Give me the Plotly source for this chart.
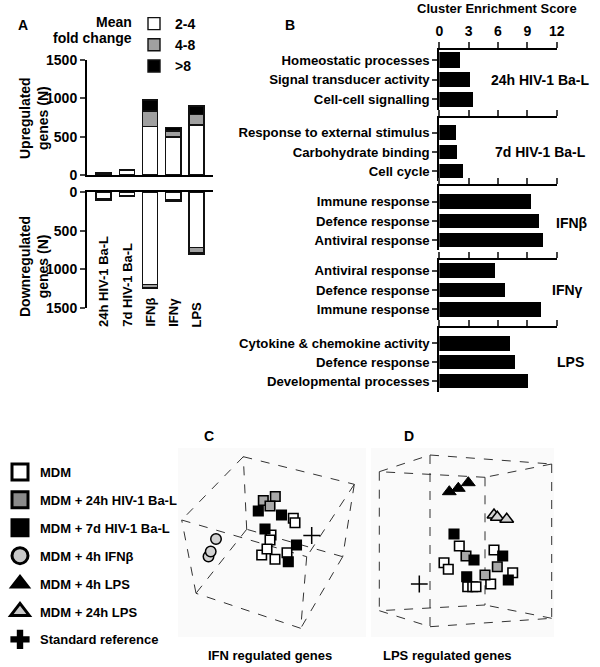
import plotly.graph_objects as go

W, H = 600, 667
def px(x): return x / W
def py(y): return 1 - y / H

FONT = "Liberation Sans, Arial, sans-serif"

# ---------------- Panel A data ----------------
a_categories = ["24h HIV-1 Ba-L", "7d HIV-1 Ba-L", "IFNβ", "IFNγ", "LPS"]
fold_bins = ["2-4", "4-8", ">8"]
fold_colors = ["white", "#a0a0a0", "black"]
up_2_4 = [22, 62, 630, 495, 652]
up_4_8 = [8, 4, 205, 79, 140]
up_gt8 = [0, 0, 143, 43, 108]
down_2_4 = [90, 48, 1195, 100, 720]
down_4_8 = [8, 4, 45, 6, 62]
down_gt8 = [5, 0, 10, 10, 18]
a_ticks = [0, 500, 1000, 1500]

# ---------------- Panel B data ----------------
b_groups = ["24h HIV-1 Ba-L", "7d HIV-1 Ba-L", "IFNβ", "IFNγ", "LPS"]
b_terms = [
    ["Homeostatic processes", "Signal transducer activity", "Cell-cell signalling"],
    ["Response to external stimulus", "Carbohydrate binding", "Cell cycle"],
    ["Immune response", "Defence response", "Antiviral response"],
    ["Antiviral response", "Defence response", "Immune response"],
    ["Cytokine & chemokine activity", "Defence response", "Developmental processes"],
]
b_scores = [
    [2.1, 3.1, 3.45],
    [1.7, 1.78, 2.45],
    [9.37, 10.2, 10.6],
    [5.7, 6.7, 10.4],
    [7.2, 7.7, 9.1],
]
b_ticks = [0, 3, 6, 9, 12]

# ---------------- Panel C data (projected PCA coordinates) ----------------
c_box_x = [243.3, 354.3, 181.7, 196.0, 300.7, 342.7, 306.7, 246.7]
c_box_y = [456.7, 484.3, 520.0, 593.3, 628.3, 556.7, 556.7, 529.3]
c_box_edges = [(0, 1), (1, 5), (5, 7), (7, 0), (2, 6), (6, 4), (4, 3), (3, 2),
               (0, 2), (1, 6), (5, 4), (7, 3)]
c_mdm_x = [293.3, 295.0, 271.0, 270.0, 261.7, 275.0, 287.0, 267.0]
c_mdm_y = [518.3, 522.7, 535.0, 540.0, 555.0, 559.3, 552.7, 549.0]
c_24h_x = [263.3, 275.3, 270.0]
c_24h_y = [500.5, 496.5, 506.0]
c_7d_x = [258.3, 281.5, 265.0, 296.5, 288.3]
c_7d_y = [511.0, 515.0, 529.0, 545.0, 561.7]
c_ifnb_x = [208.5, 210.7, 216.0]
c_ifnb_y = [556.5, 551.5, 539.0]
c_ref_x = [311.7]
c_ref_y = [535.5]

# ---------------- Panel D data ----------------
d_box_x = [379.3, 430.0, 551.7, 485.0, 379.3, 430.0, 551.7, 485.0]
d_box_y = [471.7, 455.0, 464.0, 477.3, 610.7, 626.7, 618.3, 605.0]
d_box_edges = [(0, 1), (1, 2), (2, 3), (3, 0), (4, 5), (5, 6), (6, 7), (7, 4),
               (0, 4), (1, 5), (2, 6), (3, 7)]
d_mdm_x = [459.3, 444.0, 448.3, 467.7, 472.7, 476.0, 490.7, 494.0, 512.7]
d_mdm_y = [546.0, 562.7, 569.3, 586.7, 586.7, 586.7, 584.0, 550.0, 572.7]
d_24h_x = [466.0, 485.0, 497.3]
d_24h_y = [556.0, 575.0, 566.7]
d_7d_x = [454.0, 474.0, 466.7, 502.7, 508.3]
d_7d_y = [534.0, 560.0, 576.7, 556.0, 580.0]
d_lps4_x = [449.3, 458.3, 468.3]
d_lps4_y = [491.7, 488.3, 482.7]
d_lps24_x = [494.0, 497.3, 506.7]
d_lps24_y = [515.0, 517.3, 519.3]
d_ref_x = [419.3]
d_ref_y = [584.0]

legend_names = ["MDM", "MDM + 24h HIV-1 Ba-L", "MDM + 7d HIV-1 Ba-L", "MDM + 4h IFNβ",
                "MDM + 4h LPS", "MDM + 24h LPS", "Standard reference"]

fig = go.Figure()

# ---------- Panel A bars ----------
up_vals = [up_2_4, up_4_8, up_gt8]
down_vals = [down_2_4, down_4_8, down_gt8]
for i, name in enumerate(fold_bins):
    fig.add_trace(go.Bar(x=a_categories, y=up_vals[i], name=name, marker=dict(color=fold_colors[i], line=dict(color="#111", width=1.4)),
                         width=0.65, xaxis="x", yaxis="y", legend="legend", legendgroup=name))
for i, name in enumerate(fold_bins):
    fig.add_trace(go.Bar(x=a_categories, y=down_vals[i], name=name, marker=dict(color=fold_colors[i], line=dict(color="#111", width=1.4)),
                         width=0.65, xaxis="x2", yaxis="y2", showlegend=False, legendgroup=name))

# ---------- Panel B bars ----------
b_layout = [  # top, first-centre, spacing, bottom (px)
    (50, 60, 19.7, 110),
    (118.3, 132.7, 19.2, 181),
    (186, 201.7, 19.2, 250),
    (260, 270.7, 19.3, 320),
    (328.3, 343.3, 18.9, 392),
]
for g in range(5):
    ax = g + 3
    fig.add_trace(go.Bar(x=b_scores[g], y=b_terms[g], orientation="h", width=0.77,
                         marker=dict(color="black", line=dict(width=0)),
                         xaxis=f"x{ax}", yaxis=f"y{ax}", showlegend=False))

# ---------- Panels C & D ----------
def box_lines(bx, by, edges):
    xs, ys = [], []
    for a, b in edges:
        xs += [bx[a], bx[b], None]
        ys += [by[a], by[b], None]
    return xs, ys

for bx, by, edges, ax in [(c_box_x, c_box_y, c_box_edges, 8), (d_box_x, d_box_y, d_box_edges, 9)]:
    lx, ly = box_lines(bx, by, edges)
    fig.add_trace(go.Scatter(x=lx, y=ly, mode="lines", line=dict(color="#333", width=1, dash="dash"),
                             xaxis=f"x{ax}", yaxis=f"y{ax}", showlegend=False, hoverinfo="skip"))

sq = dict(symbol="square", size=9.5, line=dict(color="black", width=1.6))
def add_pts(x, y, ax, marker):
    fig.add_trace(go.Scatter(x=x, y=y, mode="markers", marker=marker, xaxis=f"x{ax}", yaxis=f"y{ax}",
                             showlegend=False))

add_pts(c_ifnb_x, c_ifnb_y, 8, dict(symbol="circle", size=10.5, color="#d2d2d2", line=dict(color="black", width=1.5)))
add_pts(c_24h_x, c_24h_y, 8, dict(sq, color="#a8a8a8"))
add_pts(c_mdm_x, c_mdm_y, 8, dict(sq, color="white"))
add_pts(c_7d_x, c_7d_y, 8, dict(sq, color="black"))
add_pts(c_ref_x, c_ref_y, 8, dict(symbol="cross-thin", size=12, line=dict(color="black", width=1.5)))

add_pts(d_lps4_x, d_lps4_y, 9, dict(symbol="triangle-up", size=12, color="black", line=dict(color="black", width=1)))
add_pts(d_lps24_x, d_lps24_y, 9, dict(symbol="triangle-up", size=12, color="#d2d2d2", line=dict(color="black", width=1.5)))
add_pts(d_mdm_x, d_mdm_y, 9, dict(sq, color="white"))
add_pts(d_24h_x, d_24h_y, 9, dict(sq, color="#a8a8a8"))
add_pts(d_7d_x, d_7d_y, 9, dict(sq, color="black"))
add_pts(d_ref_x, d_ref_y, 9, dict(symbol="cross-thin", size=12, line=dict(color="black", width=1.5)))

# legend-only markers
leg_markers = [
    dict(symbol="square", size=18, color="white", line=dict(color="black", width=3)),
    dict(symbol="square", size=18, color="#8a8a8a", line=dict(color="black", width=3)),
    dict(symbol="square", size=18, color="black", line=dict(color="black", width=3)),
    dict(symbol="circle", size=18, color="#c8c8c8", line=dict(color="black", width=3)),
    dict(symbol="triangle-up", size=18, color="black", line=dict(color="black", width=2)),
    dict(symbol="triangle-up", size=18, color="#c8c8c8", line=dict(color="black", width=3)),
    dict(symbol="cross", size=18, color="black", line=dict(color="black", width=0)),
]
for name, mk in zip(legend_names, leg_markers):
    fig.add_trace(go.Scatter(x=[None], y=[None], mode="markers", name=name, marker=mk,
                             xaxis="x8", yaxis="y8", legend="legend2", legendgroup=name))

# ---------- Layout ----------
axfont = dict(family=FONT, size=14, color="black", weight="bold")
layout = dict(
    template="none",
    width=W, height=H, margin=dict(l=0, r=0, t=0, b=0, autoexpand=False),
    paper_bgcolor="white", plot_bgcolor="rgba(0,0,0,0)",
    font=dict(family=FONT, size=13, color="black", weight="bold"),
    barmode="stack", hovermode=False,
    legend=dict(x=px(133), y=py(8), xanchor="left", yanchor="top", traceorder="normal",
                font=dict(family=FONT, size=14, color="black", weight="bold"), bgcolor="rgba(0,0,0,0)",
                tracegroupgap=0, itemclick=False, itemwidth=32),
    legend2=dict(x=px(0), y=py(457), xanchor="left", yanchor="top", traceorder="grouped",
                 font=dict(family=FONT, size=13, color="black", weight="bold"), bgcolor="rgba(0,0,0,0)",
                 tracegroupgap=8, itemclick=False),
)

# Panel A axes
xr = [-0.71, 4.71]
common = dict(automargin=False, showgrid=False, zeroline=False)
layout["xaxis"] = dict(domain=[px(87), px(213)], anchor="y", range=xr, categoryorder="array", categoryarray=a_categories,
                       showline=True, linecolor="black", linewidth=2, showticklabels=False, ticks="", **common)
layout["yaxis"] = dict(domain=[py(175), py(60)], anchor="x", range=[0, 1500], tickvals=a_ticks,
                       showline=True, linecolor="black", linewidth=2, ticks="outside", ticklen=5, tickwidth=2,
                       tickfont=axfont, **common)
layout["xaxis2"] = dict(domain=[px(87), px(213)], anchor="y2", side="top", range=xr, categoryorder="array", categoryarray=a_categories,
                        showline=True, linecolor="black", linewidth=2, showticklabels=False, ticks="", **common)
layout["yaxis2"] = dict(domain=[py(308), py(192)], anchor="x2", range=[1500, 0], tickvals=a_ticks,
                        showline=True, linecolor="black", linewidth=2, ticks="outside", ticklen=5, tickwidth=2,
                        tickfont=axfont, **common)

# Panel B axes
for g, (T, c0, s, B) in enumerate(b_layout):
    ax = g + 3
    top_idx = -(c0 - T) / s
    bot_idx = top_idx + (B - T) / s
    layout[f"xaxis{ax}"] = dict(domain=[px(439.3), px(556.7)], anchor=f"y{ax}", side="top", range=[0, 12], tickvals=b_ticks,
                                showline=True, linecolor="black", linewidth=2, ticks="outside", ticklen=6, tickwidth=2,
                                showticklabels=(g == 0), tickfont=dict(family=FONT, size=14, color="black", weight="bold"),
                                **common)
    layout[f"yaxis{ax}"] = dict(domain=[py(B), py(T)], anchor=f"x{ax}", type="category", range=[bot_idx, top_idx],
                                showline=True, linecolor="black", linewidth=2, ticks="outside", ticklen=5, tickwidth=2,
                                tickfont=dict(family=FONT, size=13.2, color="black", weight="bold"),
                                **common)

# Panels C, D axes
for ax, (x0, x1, y0, y1) in [(8, (178, 366, 448, 637)), (9, (371, 554, 448, 637))]:
    layout[f"xaxis{ax}"] = dict(domain=[px(x0), px(x1)], anchor=f"y{ax}", range=[x0, x1], visible=False, automargin=False)
    layout[f"yaxis{ax}"] = dict(domain=[py(y1), py(y0)], anchor=f"x{ax}", range=[y1, y0], visible=False, automargin=False)

fig.update_layout(**layout)

# shapes: faint background behind 3D panels
for ax in (8, 9):
    fig.add_shape(type="rect", xref=f"x{ax} domain", yref=f"y{ax} domain", x0=0, x1=1, y0=0, y1=1,
                  fillcolor="#fafafa", line=dict(width=0), layer="below")

def ann(text, x, y, size=13, xanchor="center", yanchor="middle", xref="paper", textangle=0, align="center"):
    fig.add_annotation(text=text, x=x if xref != "paper" else px(x), y=py(y), xref=xref, yref="paper",
                       showarrow=False, xanchor=xanchor, yanchor=yanchor, textangle=textangle, align=align,
                       font=dict(family=FONT, size=size, color="black", weight="bold"))

ann("A", 23, 25, 14)
ann("B", 290, 25, 14)
ann("C", 209, 436, 14)
ann("D", 409, 436, 14)
ann("Mean", 134, 22, 14, xanchor="right")
ann("fold change", 134, 38, 14, xanchor="right")
ann("Upregulated<br>genes (N)", 34, 118, 14, textangle=-90)
ann("Downregulated<br>genes (N)", 34, 267, 14, textangle=-90)
for cat in a_categories:
    ann(cat, cat, 329, 13, xref="x2", yanchor="bottom", textangle=-90)
ann("Cluster Enrichment Score", 497, 9, 13)
b_label_pos = [(540, 80), (540, 152), (572, 223), (567, 290), (570, 362)]
for name, (gx, gy) in zip(b_groups, b_label_pos):
    ann(name, gx, gy, 14)
ann("IFN regulated genes", 270, 655, 13)
ann("LPS regulated genes", 447, 655, 13)

fig.write_html("out.html", config={"displayModeBar": False, "staticPlot": True},
               post_script="document.body.style.margin='0';document.body.style.overflow='hidden';")
